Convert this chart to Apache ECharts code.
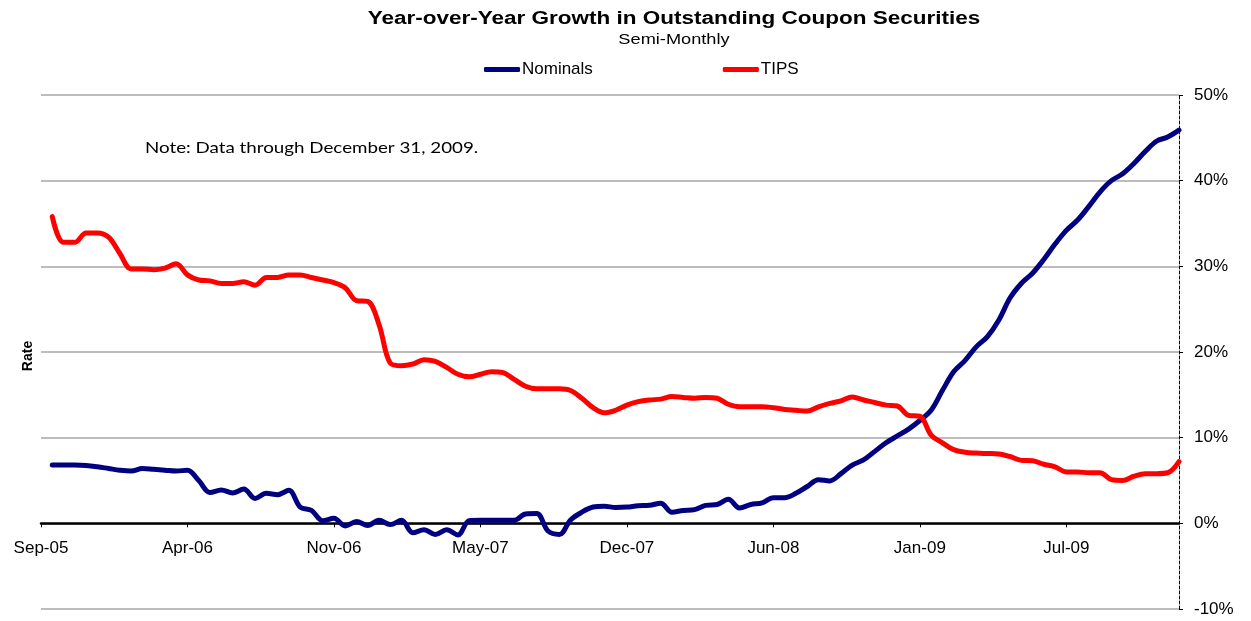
<!DOCTYPE html>
<html>
<head>
<meta charset="utf-8">
<script src="https://cdn.jsdelivr.net/npm/echarts@6/dist/echarts.min.js"></script>
<style>
  html, body { margin: 0; padding: 0; background: #fff; }
  #chart { width: 1251px; height: 621px; }
</style>
</head>
<body>
<div id="chart"></div>
<script>
// semi-monthly dates, mid-Oct 2005 .. Dec 31 2009 (first slot is the axis start)
var dates = [];
for (var y = 2005; y <= 2009; y++) {
  for (var m = 1; m <= 12; m++) {
    if (y === 2005 && m < 10) continue;
    dates.push(y + '-' + m + '-15');
    dates.push(y + '-' + m + '-end');
  }
}

// one label every 13 periods, as on the original axis
var tickLabels = ['Sep-05', 'Apr-06', 'Nov-06', 'May-07', 'Dec-07', 'Jun-08', 'Jan-09', 'Jul-09'];

// year-over-year growth, percent
var nominals = [
  null, 6.8, 6.8, 6.8, 6.75, 6.6, 6.4, 6.2, 6.1, 6.4,
  6.3, 6.2, 6.1, 6.2, 5.0, 3.6, 3.9, 3.55, 4.0, 2.9,
  3.5, 3.35, 3.85, 1.9, 1.5, 0.3, 0.6, -0.3, 0.2, -0.25,
  0.35, -0.15, 0.35, -1.1, -0.75, -1.3, -0.75, -1.35, 0.3, 0.35,
  0.35, 0.35, 0.35, 1.1, 1.15, -0.9, -1.3, 0.4, 1.3, 1.9,
  2.0, 1.85, 1.9, 2.05, 2.1, 2.35, 1.3, 1.5, 1.6, 2.1,
  2.2, 2.8, 1.8, 2.2, 2.4, 3.0, 3.0, 3.5, 4.3, 5.1,
  4.95, 5.8, 6.8, 7.4, 8.4, 9.4, 10.2, 11.0, 12.0, 13.2,
  15.5, 17.7, 19.0, 20.6, 21.8, 23.7, 26.3, 28.0, 29.2, 30.8,
  32.6, 34.2, 35.4, 37.0, 38.7, 40.0, 40.8, 42.0, 43.4, 44.6,
  45.1, 45.9
];
var tips = [
  null, 35.8, 32.8, 32.8, 33.9, 33.9, 33.4, 31.5, 29.7, 29.7,
  29.6, 29.8, 30.3, 29.0, 28.4, 28.3, 28.0, 28.0, 28.2, 27.8,
  28.7, 28.7, 29.0, 29.0, 28.7, 28.4, 28.1, 27.5, 26.0, 25.9,
  23.2, 18.7, 18.4, 18.6, 19.1, 18.9, 18.2, 17.4, 17.1, 17.4,
  17.7, 17.6, 16.8, 16.0, 15.7, 15.7, 15.7, 15.5, 14.6, 13.5,
  12.9, 13.2, 13.8, 14.2, 14.4, 14.5, 14.8, 14.7, 14.6, 14.7,
  14.6, 13.9, 13.6, 13.6, 13.6, 13.5, 13.3, 13.2, 13.1, 13.6,
  14.0, 14.3, 14.75, 14.4, 14.1, 13.8, 13.7, 12.6, 12.5, 10.3,
  9.4, 8.6, 8.3, 8.2, 8.15, 8.1, 7.8, 7.35, 7.3, 6.9,
  6.6, 6.0, 6.0, 5.9, 5.9, 5.1, 5.0, 5.5, 5.8, 5.8,
  5.9, 7.2
];

var yMin = -10, yMax = 50;
var gridTop = 95, gridBottom = 12, chartH = 621;
// the category axis sits at 0%, i.e. one band above the bottom of the grid
var zeroOffset = (chartH - gridTop - gridBottom) * (0 - yMin) / (yMax - yMin);

var font = 'Liberation Sans, Arial, sans-serif';
var chart = echarts.init(document.getElementById('chart'));

chart.setOption({
  animation: false,
  backgroundColor: '#fff',
  graphic: [
    {
      type: 'text', x: 674, y: 19, scaleX: 1.25,
      style: { text: 'Year-over-Year Growth in Outstanding Coupon Securities', font: 'bold 18px ' + font, fill: '#000', textAlign: 'center', textVerticalAlign: 'middle' }
    },
    {
      type: 'text', x: 674, y: 40, scaleX: 1.3,
      style: { text: 'Semi-Monthly', font: '14px ' + font, fill: '#000', textAlign: 'center', textVerticalAlign: 'middle' }
    },
    {
      type: 'text', x: 145, y: 148, scaleX: 1.25,
      style: { text: 'Note: Data through December 31, 2009.', font: '15px Lato, "Open Sans", sans-serif', fill: '#000', textVerticalAlign: 'middle' }
    },
    {
      type: 'text', x: 28, y: 356, rotation: Math.PI / 2,
      style: { text: 'Rate', font: 'bold 14px ' + font, fill: '#000', textAlign: 'center', textVerticalAlign: 'middle' }
    }
  ],
  legend: {
    left: 484,
    top: 61,
    padding: 0,
    itemWidth: 36,
    itemHeight: 5,
    itemGap: 130,
    icon: 'roundRect',
    textStyle: { fontFamily: font, fontSize: 17, color: '#000', padding: [0, 0, 0, -3] },
    data: ['Nominals', 'TIPS']
  },
  grid: { left: 41, right: 72, top: gridTop, bottom: gridBottom, outerBoundsMode: 'none' },
  xAxis: {
    type: 'category',
    data: dates,
    boundaryGap: false,
    position: 'bottom',
    offset: -zeroOffset,
    axisLine: { onZero: false, lineStyle: { color: '#000', width: 2.5 } },
    axisTick: { show: true, interval: 12, length: 4, lineStyle: { color: '#000', width: 1 } },
    axisLabel: {
      show: true,
      interval: 12,
      margin: 16,
      fontFamily: font,
      fontSize: 17,
      color: '#000',
      formatter: function (v) {
        var i = dates.indexOf(v);
        return i % 13 === 0 ? tickLabels[i / 13] : '';
      }
    },
    splitLine: { show: false }
  },
  yAxis: {
    type: 'value',
    position: 'right',
    min: yMin,
    max: yMax,
    interval: 10,
    axisLine: { show: true, lineStyle: { color: '#000', width: 1, type: [3, 2] } },
    axisTick: { show: true, length: 4, lineStyle: { color: '#000' } },
    axisLabel: { margin: 15, fontFamily: font, fontSize: 17, color: '#000', formatter: '{value}%' },
    splitLine: { show: true, lineStyle: { color: '#a6a6a6', width: 1.5 } }
  },
  series: [
    {
      name: 'Nominals',
      type: 'line',
      data: nominals,
      smooth: 0.35,
      symbol: 'none',
      color: '#000080',
      lineStyle: { color: '#000080', width: 5, cap: 'round', join: 'round' },
      z: 3
    },
    {
      name: 'TIPS',
      type: 'line',
      data: tips,
      smooth: 0.35,
      symbol: 'none',
      color: '#ff0000',
      lineStyle: { color: '#ff0000', width: 5, cap: 'round', join: 'round' },
      z: 4
    }
  ]
});
</script>
</body>
</html>
